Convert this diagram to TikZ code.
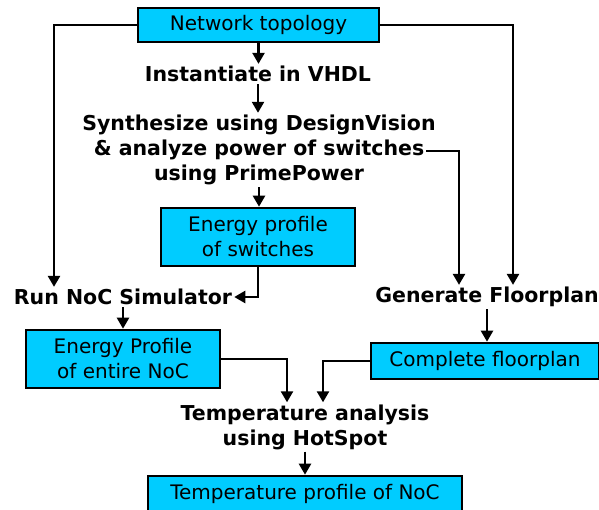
\documentclass[tikz,border=0pt]{standalone}
\usepackage{fontspec}
\setmainfont{DejaVu Sans}
\usetikzlibrary{arrows.meta}
\definecolor{boxcyan}{RGB}{0,204,255}
\begin{document}
\begin{tikzpicture}[x=1pt,y=-1pt,
  box/.style={draw, line width=2.6pt, fill=boxcyan, align=center, inner sep=2pt,
    font=\fontsize{20}{25}\selectfont},
  lbl/.style={align=center, inner sep=2pt, font=\bfseries\fontsize{20.5}{25}\selectfont},
  arr/.style={line width=2.4pt, -{Triangle[length=11pt,width=12pt]}}]
\useasboundingbox (0,0) rectangle (599,510);
\node[box, minimum width=241pt, minimum height=34pt] (topo) at (258.5,25) {Network topology};
\node[lbl] (inst) at (258,74) {Instantiate in VHDL};
\node[lbl] (syn) at (259,150) {Synthesize using DesignVision\\\& analyze power of switches\\using PrimePower};
\node[box, minimum width=194pt, minimum height=58pt] (esw) at (258,237) {Energy profile\\of switches};
\node[lbl] (run) at (123,297) {Run NoC Simulator};
\node[lbl] (gen) at (487,297) {Generate Floorplan};
\node[box, minimum width=194pt, minimum height=58pt] (enoc) at (123,359) {Energy Profile\\of entire NoC};
\node[box, minimum width=228pt, minimum height=36pt] (cfp) at (485,361) {Complete floorplan};
\node[lbl] (temp) at (305,427) {Temperature analysis\\using HotSpot};
\node[box, minimum width=314pt, minimum height=36pt] (tprof) at (305,494) {Temperature profile of NoC};
\coordinate (lcol) at (54,0);
\coordinate (rcol) at (513,0);
\coordinate (mcol) at (459,0);
\coordinate (swend) at (426,151);
\coordinate (c1) at (287,0);
\coordinate (c2) at (323,0);
\draw[arr] (topo.south) -- (topo.south |- inst.north);
\draw[arr] (inst.south) -- (inst.south |- syn.north);
\draw[arr] (syn.south) -- (syn.south |- esw.north);
\draw[arr] (esw.south) |- (run.east);
\draw[arr] (topo.west) -| (lcol |- run.north);
\draw[arr] (topo.east) -| (rcol |- gen.north);
\draw[arr] (swend) -| (mcol |- gen.north);
\draw[arr] (run.south -| enoc.north) -- (enoc.north);
\draw[arr] (gen.south) -- (gen.south |- cfp.north);
\draw[arr] (enoc.east) -| (c1 |- temp.north);
\draw[arr] (cfp.west) -| (c2 |- temp.north);
\draw[arr] (temp.south) -- (temp.south |- tprof.north);
\end{tikzpicture}
\end{document}
